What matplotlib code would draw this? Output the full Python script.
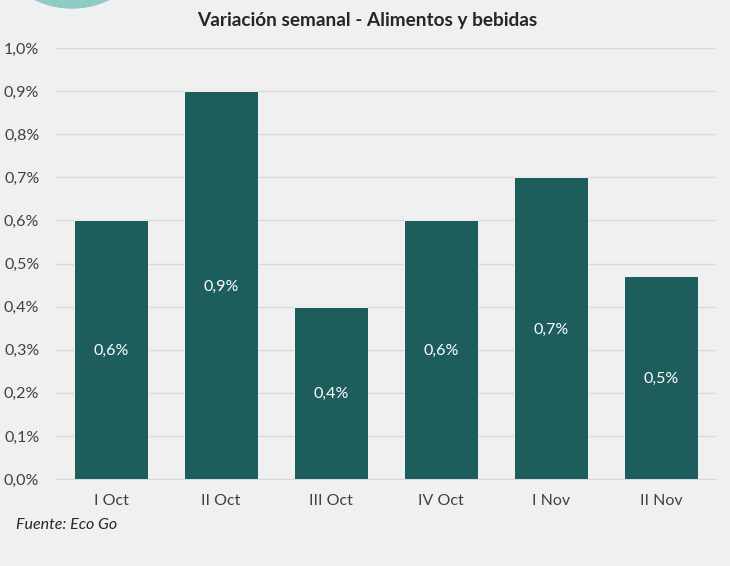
import matplotlib
matplotlib.use("Agg")
import matplotlib.pyplot as plt
from matplotlib.patches import Ellipse
from matplotlib.ticker import FuncFormatter

# datos
semanas = ["I Oct", "II Oct", "III Oct", "IV Oct", "I Nov", "II Nov"]
variacion = [0.6, 0.9, 0.4, 0.6, 0.7, 0.47]
etiquetas = ["0,6%", "0,9%", "0,4%", "0,6%", "0,7%", "0,5%"]

plt.rcParams['font.family'] = ['Lato', 'DejaVu Sans']
fondo = "#f0f0f0"
verde = "#1d5e5c"

fig = plt.figure(figsize=(7.3, 5.66), dpi=100, facecolor=fondo)
ax = fig.add_axes([0.0767, 0.1537, 0.9043, 0.7615])
ax.set_facecolor(fondo)

# circulo decorativo arriba a la izquierda
fig.patches.append(Ellipse((72/730, 1 + 77/566), 170/730, 170/566,
                           transform=fig.transFigure, color="#8ecac6", zorder=0))

x = range(len(semanas))
bars = ax.bar(x, variacion, width=0.67, color=verde, edgecolor="white", linewidth=0.6, zorder=3)
for b, t in zip(bars, etiquetas):
    ax.text(b.get_x() + b.get_width()/2, b.get_height()/2, t, ha="center", va="center_baseline",
            color="white", fontsize=11.5)

ax.set_xlim(-0.5, len(semanas) - 0.5)
ax.set_ylim(0, 1.0)
ax.set_yticks([i/10 for i in range(11)])
ax.yaxis.set_major_formatter(FuncFormatter(lambda v, p: f"{v:.1f}%".replace(".", ",")))
ax.set_xticks(list(x))
ax.set_xticklabels(semanas)
ax.tick_params(axis="both", length=0, labelsize=11.5, labelcolor="#404040")
ax.tick_params(axis="x", pad=11)
ax.tick_params(axis="y", pad=12)
ax.grid(axis="y", color="#d9d9d9", linewidth=1, zorder=0)
for s in ["top", "right", "left"]:
    ax.spines[s].set_visible(False)
ax.spines["bottom"].set_color("#d9d9d9")

fig.text(0.503, 0.963, "Variación semanal - Alimentos y bebidas", ha="center", va="center",
         fontsize=13.7, fontweight="bold", color="#262626")
fig.text(0.022, 0.073, "Fuente: Eco Go", ha="left", va="center", fontsize=11.5,
         style="italic", color="#262626")

fig.savefig("out.png", dpi=100, facecolor=fondo)
